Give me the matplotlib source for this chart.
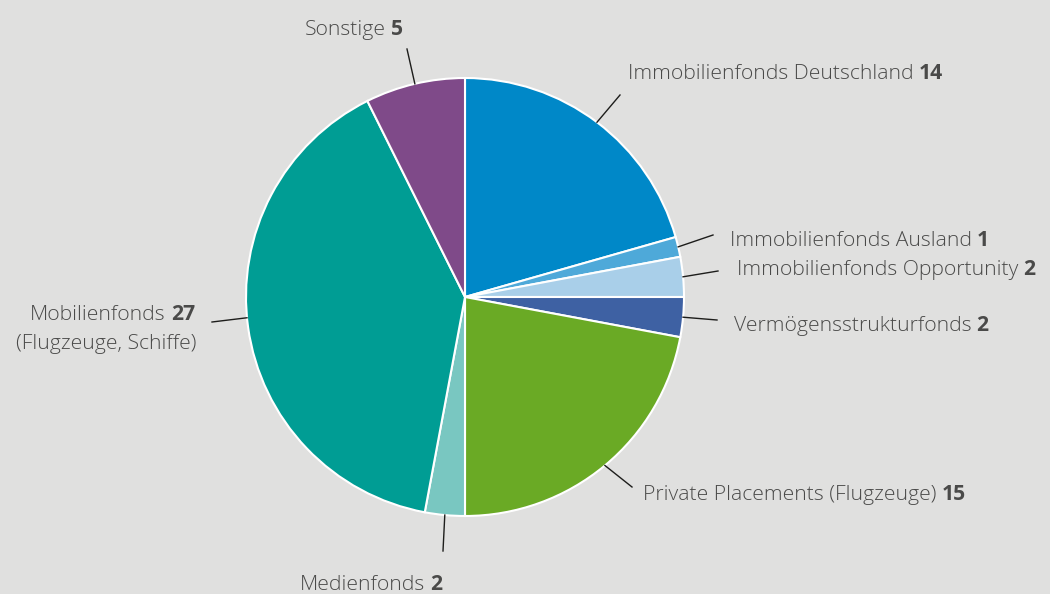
import matplotlib
matplotlib.use("Agg")
import matplotlib.pyplot as plt
import numpy as np

# data
names = ["Immobilienfonds Deutschland", "Immobilienfonds Ausland",
         "Immobilienfonds Opportunity", "Vermögensstrukturfonds",
         "Private Placements (Flugzeuge)", "Medienfonds",
         "Mobilienfonds", "Sonstige"]
values = [14, 1, 2, 2, 15, 2, 27, 5]
colors = ["#0088c8", "#4ea9d9", "#a9cfe9", "#3e61a3",
          "#6aaa25", "#79c7c1", "#009d94", "#7f4a89"]

W, H = 1050, 594
bg = "#e0e0df"
tc = "#4a4a49"

plt.rcParams["font.family"] = ["Open Sans", "DejaVu Sans"]

fig = plt.figure(figsize=(10.5, 5.94), dpi=100, facecolor=bg)
ax = fig.add_axes([0, 0, 1, 1])
ax.set_facecolor(bg)

cx, cy, R = 465, 297, 219
ax.pie(values, colors=colors, startangle=90, counterclock=False,
       center=(cx, H - cy), radius=R,
       wedgeprops=dict(edgecolor="white", linewidth=1.5))
ax.set_xlim(0, W)
ax.set_ylim(0, H)
ax.set_aspect("auto")
ax.axis("off")

# mid angles of the wedges
tot = sum(values)
ends = 90 - 360 * np.cumsum(values) / tot
starts = np.concatenate([[90], ends[:-1]])
mids = np.radians((starts + ends) / 2)

# leader line end points and label positions (pixels, y from top)
line_end = [(620, 95), (713, 235), (718, 271), (717, 320),
            (632, 487), (443, 551), (212, 322), (407, 49)]
line_shift = [0, 0, 0, 0, 0, 0, -2.5, 0]   # degrees, small nudges
text_pos = [(628, 79, "left"), (730, 246, "left"), (737, 275, "left"),
            (734, 331, "left"), (643, 500, "left"), (300, 590, "left"),
            (195, 320, "right"), (305, 35, "left")]

fs = 15.2
fig.canvas.draw()
rend = fig.canvas.get_renderer()
inv = ax.transData.inverted()

for i in range(len(values)):
    a = mids[i] + np.radians(line_shift[i])
    x0 = cx + R * np.cos(a)
    y0 = cy - R * np.sin(a)
    ex, ey = line_end[i]
    ax.plot([x0, ex], [H - y0, H - ey], color="#1d1d1b", lw=1)

    tx, ty, ha = text_pos[i]
    if ha == "left":
        t = ax.text(tx, H - ty, names[i], ha="left", va="baseline",
                    fontsize=fs, color=tc, fontweight="light")
        bb = t.get_window_extent(rend)
        xr = inv.transform((bb.x1, bb.y0))[0]
        ax.text(xr + 5, H - ty, str(values[i]), ha="left", va="baseline",
                fontsize=fs, color=tc, fontweight="bold")
    else:
        b = ax.text(tx, H - ty, str(values[i]), ha="right", va="baseline",
                    fontsize=fs, color=tc, fontweight="bold")
        bb = b.get_window_extent(rend)
        xl = inv.transform((bb.x0, bb.y0))[0]
        ax.text(xl - 5, H - ty, names[i], ha="right", va="baseline",
                fontsize=fs, color=tc, fontweight="light")
        ax.text(tx + 1, H - 349, "(Flugzeuge, Schiffe)", ha="right",
                va="baseline", fontsize=fs, color=tc, fontweight="light")

fig.savefig("out.png", dpi=100, facecolor=bg)
